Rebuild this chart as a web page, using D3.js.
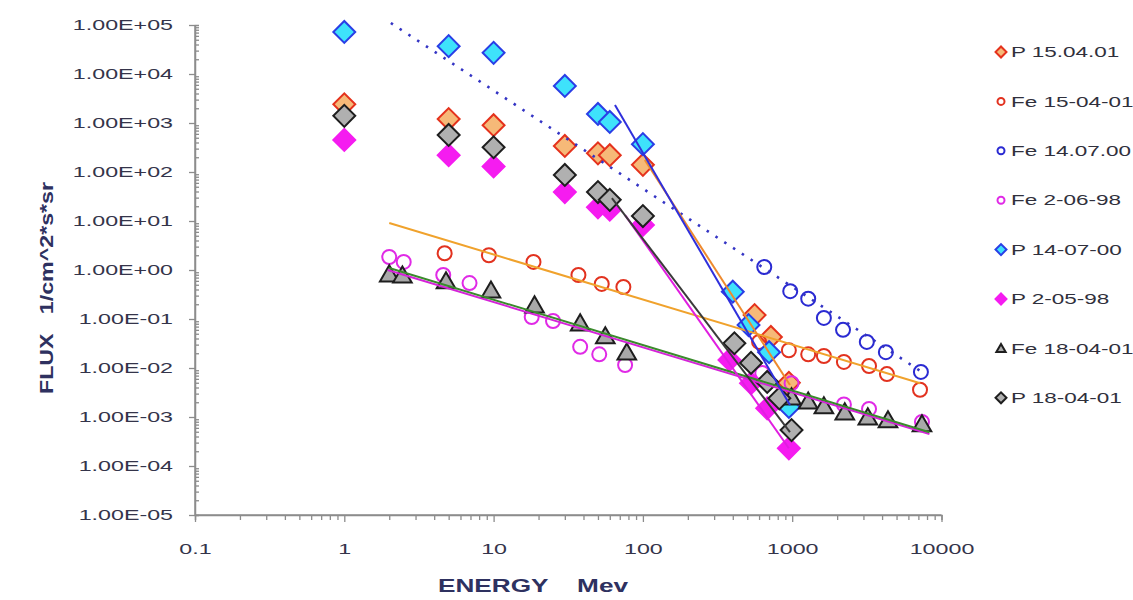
<!DOCTYPE html>
<html>
<head>
<meta charset="utf-8">
<script src="https://cdn.jsdelivr.net/npm/d3@7"></script>
<style>
  body { margin: 0; background: #fff; }
  svg { display: block; font-family: "Liberation Sans", Arial, sans-serif; }
  .title { white-space: pre; }
</style>
</head>
<body>
<svg id="chart" width="1133" height="600"></svg>
<script>
// ---- axis ticks ----
const xTicks = [0.1, 1, 10, 100, 1000, 10000];
const xTickLabels = ["0.1", "1", "10", "100", "1000", "10000"];
const yTicks = [1e5, 1e4, 1e3, 1e2, 1e1, 1e0, 1e-1, 1e-2, 1e-3, 1e-4, 1e-5];
const yTickLabels = ["1.00E+05", "1.00E+04", "1.00E+03", "1.00E+02", "1.00E+01", "1.00E+00",
                     "1.00E-01", "1.00E-02", "1.00E-03", "1.00E-04", "1.00E-05"];

// ---- measured spectra: energy (MeV) and flux (1/cm^2*s*sr) ----
const pE_150401 = [1, 5, 10, 30, 50, 60, 100, 560, 720, 950];
const pF_150401 = [2400, 1200, 900, 340, 240, 220, 140, 0.12, 0.043, 0.005];

const feE_150401 = [4.7, 9.3, 18.5, 37, 53, 74, 600, 950, 1280, 1630, 2220, 3270, 4310, 7180];
const feF_150401 = [2.2, 2.0, 1.46, 0.79, 0.52, 0.45, 0.034, 0.023, 0.019, 0.0176, 0.0133, 0.011, 0.0075, 0.0036];

const feE_140700 = [650, 970, 1280, 1630, 2190, 3160, 4240, 7280];
const feF_140700 = [1.15, 0.37, 0.26, 0.105, 0.06, 0.034, 0.021, 0.0083];

const feE_020598 = [2.0, 2.5, 4.6, 6.9, 18, 25, 38, 51, 76, 630, 990, 2220, 3270, 7400];
const feF_020598 = [1.84, 1.46, 0.79, 0.54, 0.11, 0.091, 0.027, 0.019, 0.0115, 0.0079, 0.0049, 0.0018, 0.00146, 0.00079];

const pE_140700 = [1, 5, 10, 30, 50, 60, 100, 400, 510, 700, 950];
const pF_140700 = [72000, 37000, 27000, 5700, 1530, 1050, 370, 0.36, 0.075, 0.021, 0.0016];

const pE_020598 = [1, 5, 10, 30, 50, 60, 100, 380, 530, 680, 950];
const pF_020598 = [450, 220, 130, 39, 19, 17, 8.3, 0.0146, 0.0049, 0.0015, 0.00023];

const feE_180401 = [2.0, 2.45, 4.8, 9.6, 18.8, 38, 56, 78, 990, 1280, 1630, 2250, 3210, 4380, 7400];
const feF_180401 = [0.79, 0.75, 0.57, 0.37, 0.184, 0.079, 0.043, 0.020, 0.00244, 0.0020, 0.0016, 0.0012, 0.00095, 0.00083, 0.00069];

const pE_180401 = [1, 5, 10, 30, 50, 60, 100, 410, 530, 680, 820, 990];
const pF_180401 = [1400, 570, 320, 87, 39, 27, 12.6, 0.032, 0.0127, 0.0052, 0.0024, 0.00054];

// ---- power-law trend lines: [start energy, end energy] and [start flux, end flux] ----
const fitE_fe140700 = [2.05, 7300];   const fitF_fe140700 = [1.1e5, 0.0085];
const fitE_fe150401 = [2.0, 7200];    const fitF_fe150401 = [9.1, 0.0049];
const fitE_fe180401 = [2.0, 8300];    const fitF_fe180401 = [1.1, 0.00049];
const fitE_fe020598 = [1.95, 8300];   const fitF_fe020598 = [1.0, 0.00045];
const fitE_p140700  = [65, 966];      const fitF_p140700  = [2330, 0.00176];
const fitE_p150401  = [103, 966];     const fitF_p150401  = [176, 0.0045];
const fitE_p180401  = [62, 966];      const fitF_p180401  = [29.4, 0.00049];
const fitE_p020598  = [76, 950];      const fitF_p020598  = [13.2, 0.00023];

// ---- series definitions (legend order = drawing order) ----
const series = [
  { name: "P 15.04.01", E: pE_150401,  F: pF_150401,  shape: "diamond",  fill: "#f6b978", stroke: "#e5321c" },
  { name: "Fe 15-04-01", E: feE_150401, F: feF_150401, shape: "circle",   fill: "none",    stroke: "#e2321f" },
  { name: "Fe 14.07.00", E: feE_140700, F: feF_140700, shape: "circle",   fill: "none",    stroke: "#2a2ad2" },
  { name: "Fe 2-06-98",  E: feE_020598, F: feF_020598, shape: "circle",   fill: "none",    stroke: "#e02ae6" },
  { name: "P 14-07-00",  E: pE_140700,  F: pF_140700,  shape: "diamond",  fill: "#3ee2fb", stroke: "#2a3ee6" },
  { name: "P 2-05-98",   E: pE_020598,  F: pF_020598,  shape: "diamond",  fill: "#f51cf0", stroke: "#f51cf0" },
  { name: "Fe 18-04-01", E: feE_180401, F: feF_180401, shape: "triangle", fill: "#a9a9a9", stroke: "#1e1e1e" },
  { name: "P 18-04-01",  E: pE_180401,  F: pF_180401,  shape: "diamond",  fill: "#b0b0b0", stroke: "#1e1e1e" }
];

const fits = [
  { E: fitE_fe140700, F: fitF_fe140700, color: "#3434c4", dash: "2.5,8" },
  { E: fitE_fe150401, F: fitF_fe150401, color: "#f0a22c", dash: null },
  { E: fitE_fe020598, F: fitF_fe020598, color: "#d523d8", dash: null },
  { E: fitE_fe180401, F: fitF_fe180401, color: "#3a8a2c", dash: null },
  { E: fitE_p150401,  F: fitF_p150401,  color: "#ee8a2e", dash: null },
  { E: fitE_p140700,  F: fitF_p140700,  color: "#2f2fdc", dash: null },
  { E: fitE_p020598,  F: fitF_p020598,  color: "#e01ee0", dash: null },
  { E: fitE_p180401,  F: fitF_p180401,  color: "#3a3a3a", dash: null }
];

// ---- layout ----
const svg = d3.select("#chart");
const x = d3.scaleLog().domain([0.1, 10000]).range([195, 941.5]);
const y = d3.scaleLog().domain([1e-5, 1e5]).range([515, 25]);
const axisColor = "#8c8c8c";
const textColor = "#34344a";
const stretch = 1.5;   // wide lettering

// minor tick positions (2..9 within each decade)
const xMinor = [];
for (let d = -1; d < 4; d++) for (let m = 2; m <= 9; m++) xMinor.push(m * Math.pow(10, d));
const yMinor = [];
for (let d = -5; d < 5; d++) for (let m = 2; m <= 9; m++) yMinor.push(m * Math.pow(10, d));

function styleAxis(g) {
  g.select(".domain").attr("stroke", axisColor).attr("stroke-width", 1.5);
  g.selectAll(".tick line").attr("stroke", axisColor).attr("stroke-width", 1.3);
}

// x axis
const gxMinor = svg.append("g").attr("transform", `translate(0,${y(1e-5)})`)
  .call(d3.axisBottom(x).tickValues(xMinor).tickSize(5).tickFormat(""));
styleAxis(gxMinor);
const gx = svg.append("g").attr("transform", `translate(0,${y(1e-5)})`)
  .call(d3.axisBottom(x).tickValues(xTicks).tickSize(7)
        .tickFormat((d, i) => xTickLabels[i]));
styleAxis(gx);
gx.selectAll(".tick text")
  .attr("y", 28).attr("fill", textColor)
  .attr("font-size", 15.5)
  .attr("transform", `scale(${stretch},1)`);

// y axis
const gyMinor = svg.append("g").attr("transform", `translate(${x(0.1)},0)`)
  .call(d3.axisLeft(y).tickValues(yMinor).tickSize(-4).tickFormat(""));
styleAxis(gyMinor);
const gy = svg.append("g").attr("transform", `translate(${x(0.1)},0)`)
  .call(d3.axisLeft(y).tickValues(yTicks).tickSize(6)
        .tickFormat((d, i) => yTickLabels[i]));
styleAxis(gy);
gy.selectAll(".tick text")
  .attr("x", -22 / stretch).attr("fill", textColor)
  .attr("font-size", 15.5)
  .attr("transform", `scale(${stretch},1)`);
gy.select(".domain").attr("d", `M0,${y(1e5)}V${y(1e-5)}`);
gx.select(".domain").attr("d", `M${x(0.1)},0H${x(10000)}`);

// axis titles
svg.append("text").attr("class", "title")
  .attr("transform", "translate(46,288) rotate(-90)")
  .attr("text-anchor", "middle").attr("dy", "0.35em")
  .attr("font-size", 19).attr("font-weight", "bold").attr("fill", "#2e3160")
  .attr("textLength", 212).attr("lengthAdjust", "spacingAndGlyphs")
  .text("FLUX   1/cm^2*s*sr");

svg.append("text").attr("class", "title")
  .attr("x", 533).attr("y", 592)
  .attr("text-anchor", "middle")
  .attr("font-size", 19).attr("font-weight", "bold").attr("fill", "#2e3160")
  .attr("textLength", 190).attr("lengthAdjust", "spacingAndGlyphs")
  .text("ENERGY    Mev");

// marker generators
const diamondPath = d3.symbol().type(d3.symbolSquare).size(240)();
const trianglePath = d3.symbol().type(d3.symbolTriangle).size(150)();
function drawMarker(g, shape, cx, cy, s, scale) {
  if (shape === "circle") {
    g.append("circle").attr("cx", cx).attr("cy", cy).attr("r", 7 * scale)
      .attr("fill", "none").attr("stroke", s.stroke).attr("stroke-width", 2);
  } else if (shape === "diamond") {
    g.append("path").attr("d", diamondPath)
      .attr("transform", `translate(${cx},${cy}) rotate(45) scale(${scale})`)
      .attr("fill", s.fill).attr("stroke", s.stroke).attr("stroke-width", 2 / scale);
  } else {
    g.append("path").attr("d", trianglePath)
      .attr("transform", `translate(${cx},${cy + 1}) scale(${scale})`)
      .attr("fill", s.fill).attr("stroke", s.stroke).attr("stroke-width", 2 / scale);
  }
}

// data markers
const marks = svg.append("g");
series.forEach(s => {
  const g = marks.append("g");
  s.E.forEach((e, i) => drawMarker(g, s.shape, x(e), y(s.F[i]), s, 1));
});

// trend lines
const line = d3.line().x(d => x(d[0])).y(d => y(d[1]));
const lines = svg.append("g");
fits.forEach(f => {
  lines.append("path")
    .attr("d", line(f.E.map((e, i) => [e, f.F[i]])))
    .attr("fill", "none").attr("stroke", f.color)
    .attr("stroke-width", f.dash ? 2.6 : 2)
    .attr("stroke-dasharray", f.dash);
});

// legend
const legend = svg.append("g");
series.forEach((s, i) => {
  const ly = 52 + i * 49.4;
  drawMarker(legend, s.shape, 1001, ly, s, 0.5);
  legend.append("text")
    .attr("transform", `translate(1011,${ly}) scale(${stretch},1)`)
    .attr("dy", "0.35em")
    .attr("font-size", 15).attr("fill", "#30303c")
    .text(s.name);
});
</script>
</body>
</html>
